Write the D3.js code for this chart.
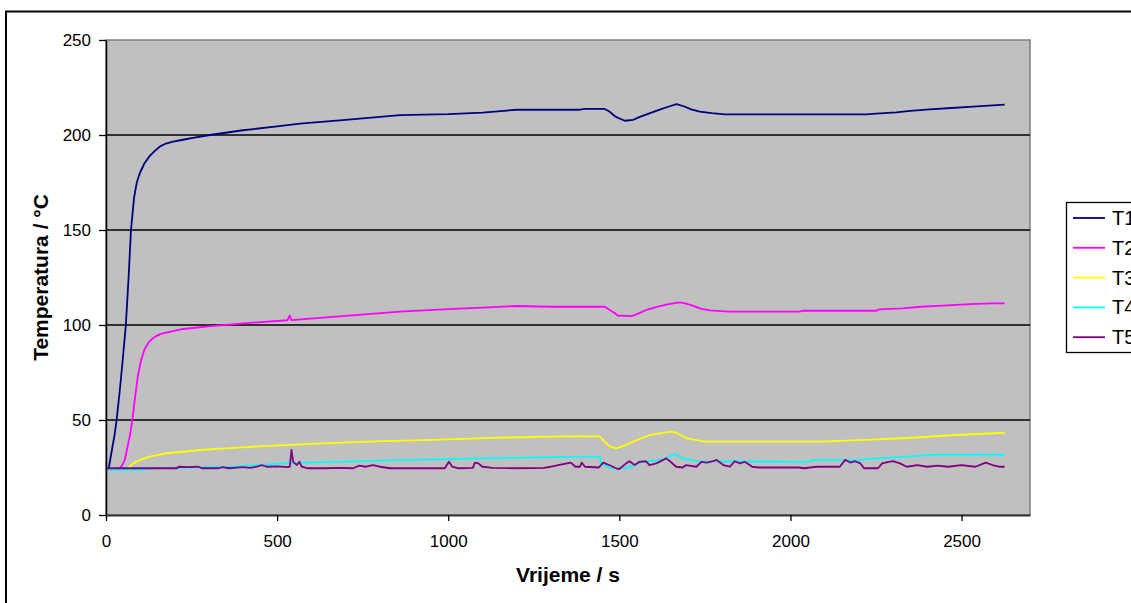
<!DOCTYPE html>
<html><head><meta charset="utf-8">
<script src="https://cdn.jsdelivr.net/npm/d3@7"></script>
<style>
html,body{margin:0;padding:0;background:#fff;}
svg{display:block;font-family:"Liberation Sans",Arial,sans-serif;}
</style></head>
<body>
<svg id="chart" width="1131" height="603"></svg>
<script>
// ---- data (time in s, temperature in °C) ----
const seriesNames = ["T1","T2","T3","T4","T5"];
const xTicks = [0,500,1000,1500,2000,2500];
const yTicks = [0,50,100,150,200,250];

const t1 = [[0,24],[8,24.5],[17,34],[25,42],[31,50],[40,65],[48,80],[58,100],[66,125],[73,150],[82,167],[90,175],[99,180],[112,185],[128,189],[145,192],[158,194],[175,195.5],[196,196.5],[225,197.5],[254,198.5],[304,200],[400,202.5],[500,204.5],[567,206],[700,208],[859,210.5],[1000,211],[1100,211.8],[1200,213.3],[1300,213.3],[1385,213.3],[1400,213.7],[1457,213.7],[1470,212.5],[1490,209.5],[1516,207.5],[1540,208],[1560,209.5],[1590,211.5],[1620,213.5],[1645,215],[1667,216.3],[1690,215],[1710,213.5],[1735,212.3],[1770,211.5],[1808,210.9],[2222,210.9],[2250,211.3],[2309,211.9],[2350,212.7],[2407,213.5],[2470,214.2],[2533,214.9],[2626,216]];

const t2 = [[0,24],[35,24],[45,25.5],[55,29],[62,35],[70,42],[77,50],[85,62],[93,73],[102,81],[112,87],[125,91],[140,93.5],[160,95.3],[190,96.5],[225,97.9],[300,99.3],[400,100.9],[530,102.5],[537,105],[542,102.6],[700,104.8],[859,107],[1000,108.4],[1200,110],[1300,109.6],[1457,109.6],[1472,107.9],[1485,106.5],[1495,105],[1536,104.7],[1555,106],[1580,108],[1610,109.5],[1640,110.8],[1670,111.8],[1683,111.8],[1710,110.5],[1740,108.5],[1764,107.7],[1822,107],[2027,107],[2036,107.5],[2252,107.5],[2258,108.2],[2328,108.8],[2382,109.6],[2445,110.2],[2523,111],[2590,111.4],[2626,111.4]];

const t3 = [[0,24],[60,24],[70,25.5],[80,27.2],[100,29],[128,30.7],[177,32.5],[275,34.2],[421,35.9],[567,37.2],[761,38.6],[955,39.5],[1151,40.7],[1300,41.2],[1394,41.5],[1443,41.2],[1457,38.6],[1472,36.1],[1491,35.1],[1515,36.5],[1540,38.6],[1589,42],[1618,43],[1652,43.9],[1670,43],[1696,40.4],[1749,38.6],[2094,38.6],[2251,39.8],[2328,40.4],[2484,42.1],[2626,43.3]];

const t4 = [[0,23.7],[100,23.7],[148,24.7],[371,25.4],[518,27.2],[664,28],[859,28.9],[1102,29.8],[1394,30.7],[1443,30.7],[1446,27.2],[1472,24.7],[1521,24.7],[1569,28],[1628,29.3],[1662,32.1],[1686,29.8],[1725,28.4],[2050,28],[2066,28.9],[2193,28.9],[2231,29.5],[2338,30.7],[2416,31.6],[2626,31.7]];

const t5 = [[0,24.6],[207,24.6],[212,25.4],[240,25.2],[270,25.4],[280,24.6],[330,24.6],[340,25.2],[360,24.6],[400,25.2],[420,24.8],[440,25.4],[455,26.3],[470,25.4],[500,25.6],[530,25.2],[537,25.4],[542,34.2],[547,28],[552,27.2],[558,26.3],[565,28],[572,25.4],[590,24.6],[640,24.6],[680,24.8],[722,24.6],[740,26],[760,25.4],[780,26.3],[800,25.4],[830,24.6],[990,24.6],[1002,28],[1012,25.4],[1030,24.6],[1072,24.8],[1078,27.6],[1088,27.2],[1100,25.4],[1130,24.8],[1200,24.6],[1280,24.8],[1300,25.4],[1358,27.6],[1372,25.4],[1385,25.4],[1390,27.6],[1400,25.4],[1440,25],[1453,27.6],[1470,26.3],[1491,24.6],[1500,24.2],[1520,27.2],[1530,28.3],[1545,26.3],[1559,28],[1578,28.3],[1588,26.3],[1608,27.2],[1637,29.8],[1650,28],[1666,25.4],[1685,25],[1695,26.3],[1725,25.4],[1740,28],[1755,27.6],[1774,28.3],[1784,29],[1804,26.3],[1823,25.4],[1837,28.3],[1852,27.2],[1866,28],[1881,26.3],[1888,25.4],[1907,25],[2024,25],[2040,24.6],[2076,25.4],[2144,25.4],[2160,29],[2175,27.6],[2189,28.3],[2204,27.2],[2215,24.6],[2256,24.6],[2268,27.2],[2287,28],[2300,28.3],[2320,27.2],[2340,25.4],[2370,26.3],[2400,25.4],[2430,26],[2460,25.4],[2500,26.3],[2540,25.4],[2571,27.6],[2590,26.3],[2610,25.4],[2626,25.4]];

const seriesData = [t1,t2,t3,t4,t5];
const colors = ["#000080","#FF00FF","#FFFF00","#00FFFF","#800080"];

// ---- layout ----
const svg = d3.select("#chart");
const L = 106, R = 1030, T = 40, B = 515;
const x = d3.scaleLinear().domain([0,2700]).range([L,R]);
const y = d3.scaleLinear().domain([0,250]).range([B,T]);

// outer chart border
svg.append("rect").attr("x",6).attr("y",11.5).attr("width",1140).attr("height",610)
  .attr("fill","#fff").attr("stroke","#000").attr("stroke-width",2);

// plot area
svg.append("rect").attr("x",L).attr("y",T).attr("width",R-L).attr("height",B-T)
  .attr("fill","#C0C0C0").attr("stroke","#808080").attr("stroke-width",1.5);

// gridlines
svg.append("g").selectAll("line").data(yTicks.filter(d=>d>0 && d<250)).join("line")
  .attr("x1",L).attr("x2",R).attr("y1",d=>y(d)).attr("y2",d=>y(d))
  .attr("stroke","#000").attr("stroke-width",1.3);

// series
const line = d3.line().x(d=>x(d[0])).y(d=>y(d[1]));
const gLines = svg.append("g");
seriesData.forEach((s,i)=>{
  gLines.append("path").datum(s).attr("d",line).attr("fill","none")
    .attr("stroke",colors[i]).attr("stroke-width",1.8).attr("stroke-linejoin","round");
});

// axes
const fmt = d3.format("d");
const yAxis = svg.append("g").attr("transform",`translate(${L},0)`)
  .call(d3.axisLeft(y).tickValues(yTicks).tickFormat(fmt).tickSize(7).tickPadding(8).tickSizeOuter(0));
const xAxis = svg.append("g").attr("transform",`translate(0,${B})`)
  .call(d3.axisBottom(x).tickValues(xTicks).tickFormat(fmt).tickSize(6).tickPadding(14).tickSizeOuter(0));
[yAxis,xAxis].forEach(a=>{
  a.selectAll("text").attr("font-size",17).attr("fill","#000")
   .attr("font-family","'Liberation Sans',Arial,sans-serif");
  a.selectAll("line").attr("stroke","#000").attr("stroke-width",1.3);
});
yAxis.select(".domain").attr("stroke","#000").attr("stroke-width",1.5);
xAxis.select(".domain").attr("stroke","#333").attr("stroke-width",2);

// axis titles
svg.append("text").attr("x",(L+R)/2).attr("y",582).attr("text-anchor","middle")
  .attr("font-size",21).attr("font-weight","bold").text("Vrijeme / s");
svg.append("text").attr("transform",`translate(48,${(T+B)/2}) rotate(-90)`)
  .attr("text-anchor","middle").attr("font-size",21).attr("font-weight","bold")
  .text("Temperatura / °C");

// legend
const lg = svg.append("g");
lg.append("rect").attr("x",1066.5).attr("y",202.5).attr("width",80).attr("height",150)
  .attr("fill","#fff").attr("stroke","#000").attr("stroke-width",1.3);
seriesNames.forEach((n,i)=>{
  const yy = 218 + i*29.8;
  lg.append("line").attr("x1",1073).attr("x2",1105).attr("y1",yy).attr("y2",yy)
    .attr("stroke",colors[i]).attr("stroke-width",1.8);
  lg.append("text").attr("x",1112).attr("y",yy+7).attr("font-size",20).text(n);
});
</script>
</body></html>
